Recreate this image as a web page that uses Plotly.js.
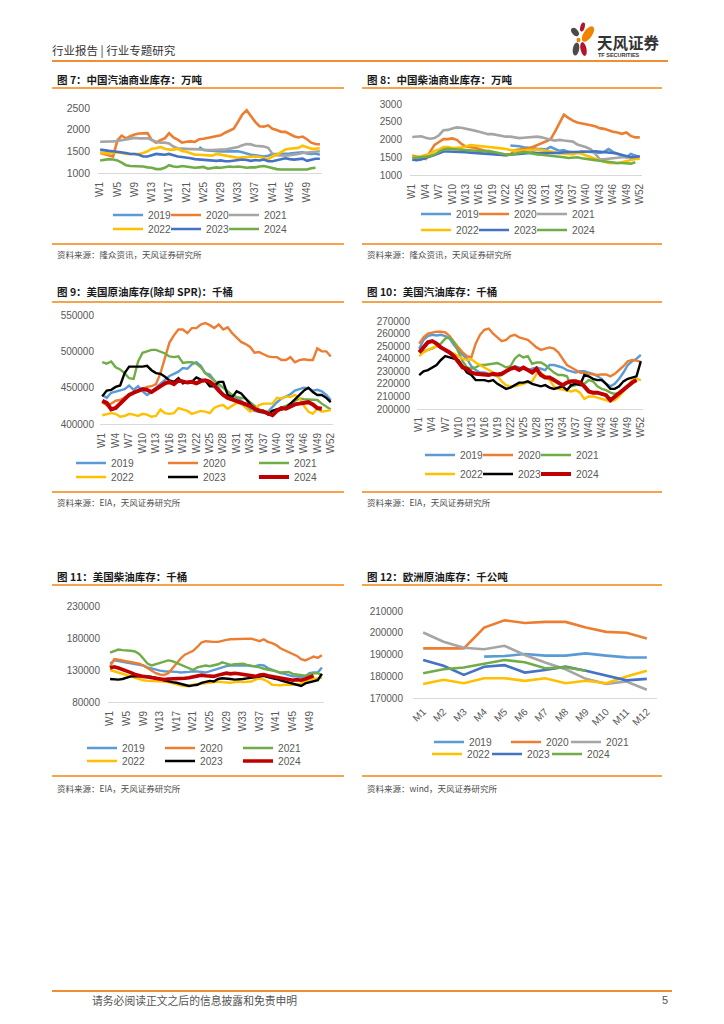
<!DOCTYPE html>
<html>
<head>
<meta charset="utf-8">
<script src="https://cdn.plot.ly/plotly-3.0.1.min.js"></script>
<style>
html,body{margin:0;padding:0;background:#fff}
body{width:724px;height:1024px;position:relative;overflow:hidden;font-family:"Noto Sans CJK SC","Noto Sans",sans-serif}
.t{position:absolute;white-space:nowrap;line-height:1}
.ttl{font-size:10.5px;font-weight:bold;color:#1a1a1a}
.src{font-size:8.5px;color:#4d4d4d}
.ln{position:absolute;height:1.5px;background:#F5A34C}
.chart{position:absolute}
</style>
</head>
<body>
<div class="t" style="left:52px;top:45px;font-size:11.5px;color:#333">行业报告 | 行业专题研究</div>
<div class="ln" style="left:52px;top:60px;width:616px;height:2px;background:#EE8F33"></div>
<svg style="position:absolute;left:566px;top:20px" width="32" height="42" viewBox="0 0 32 42">
  <ellipse cx="9" cy="12" rx="3" ry="4.8" transform="rotate(-40 9 12)" fill="#4a4a4a"/>
  <ellipse cx="16.5" cy="7" rx="2.2" ry="4.6" transform="rotate(15 16.5 7)" fill="#B3152C"/>
  <ellipse cx="22" cy="14" rx="4.2" ry="9" transform="rotate(35 22 14)" fill="#F08300"/>
  <ellipse cx="12.5" cy="20" rx="2" ry="2.2" fill="#F08300"/>
  <ellipse cx="10" cy="29" rx="3.2" ry="6.5" transform="rotate(10 10 29)" fill="#4a4a4a"/>
  <ellipse cx="17.5" cy="29" rx="3" ry="7" transform="rotate(-12 17.5 29)" fill="#B3152C"/>
</svg>
<div class="t" style="left:597px;top:35px;font-size:15.5px;font-weight:bold;color:#333">天风证券</div>
<div class="t" style="left:598px;top:53px;font-size:5.5px;color:#333;font-family:'Liberation Sans',Arial,sans-serif;font-weight:bold">TF SECURITIES</div>

<!-- Chart 7 -->
<div class="t ttl" style="left:57px;top:75px">图 7：中国汽油商业库存：万吨</div>
<div class="ln" style="left:52px;top:87px;width:292px"></div>
<div id="c7" class="chart" style="left:52px;top:92px"></div>
<div class="ln" style="left:52px;top:243px;width:292px"></div>
<div class="t src" style="left:57px;top:250px">资料来源：隆众资讯，天风证券研究所</div>

<!-- Chart 8 -->
<div class="t ttl" style="left:367px;top:75px">图 8：中国柴油商业库存：万吨</div>
<div class="ln" style="left:362px;top:87px;width:300px"></div>
<div id="c8" class="chart" style="left:362px;top:92px"></div>
<div class="ln" style="left:362px;top:243px;width:300px"></div>
<div class="t src" style="left:367px;top:250px">资料来源：隆众资讯，天风证券研究所</div>

<!-- Chart 9 -->
<div class="t ttl" style="left:57px;top:287px">图 9：美国原油库存(除却 SPR)：千桶</div>
<div class="ln" style="left:52px;top:301px;width:292px"></div>
<div id="c9" class="chart" style="left:52px;top:304px"></div>
<div class="ln" style="left:52px;top:491px;width:292px"></div>
<div class="t src" style="left:57px;top:498px">资料来源：EIA，天风证券研究所</div>

<!-- Chart 10 -->
<div class="t ttl" style="left:367px;top:287px">图 10：美国汽油库存：千桶</div>
<div class="ln" style="left:362px;top:301px;width:300px"></div>
<div id="c10" class="chart" style="left:362px;top:304px"></div>
<div class="ln" style="left:362px;top:491px;width:300px"></div>
<div class="t src" style="left:367px;top:498px">资料来源：EIA，天风证券研究所</div>

<!-- Chart 11 -->
<div class="t ttl" style="left:57px;top:572px">图 11：美国柴油库存：千桶</div>
<div class="ln" style="left:52px;top:584px;width:292px"></div>
<div id="c11" class="chart" style="left:52px;top:588px"></div>
<div class="ln" style="left:52px;top:775px;width:292px"></div>
<div class="t src" style="left:57px;top:784px">资料来源：EIA，天风证券研究所</div>

<!-- Chart 12 -->
<div class="t ttl" style="left:367px;top:572px">图 12：欧洲原油库存：千公吨</div>
<div class="ln" style="left:362px;top:584px;width:300px"></div>
<div id="c12" class="chart" style="left:362px;top:588px"></div>
<div class="ln" style="left:362px;top:775px;width:300px"></div>
<div class="t src" style="left:367px;top:784px">资料来源：wind，天风证券研究所</div>

<!-- Footer -->
<div class="ln" style="left:52px;top:990px;width:620px;height:2px;background:#EE8F33"></div>
<div class="t" style="left:92px;top:995px;font-size:10.8px;color:#555">请务必阅读正文之后的信息披露和免责申明</div>
<div class="t" style="left:662px;top:995px;font-size:11px;color:#555;font-family:'Liberation Sans',Arial,sans-serif">5</div>

<script>
// ---------------- DATA ----------------
const years = ['2019','2020','2021','2022','2023','2024'];
const weeks = ['W1','W2','W3','W4','W5','W6','W7','W8','W9','W10','W11','W12','W13','W14','W15','W16','W17','W18','W19','W20','W21','W22','W23','W24','W25','W26','W27','W28','W29','W30','W31','W32','W33','W34','W35','W36','W37','W38','W39','W40','W41','W42','W43','W44','W45','W46','W47','W48','W49','W50','W51','W52'];
const months = ['M1','M2','M3','M4','M5','M6','M7','M8','M9','M10','M11','M12'];
const weekTicks4 = ['W1','W5','W9','W13','W17','W21','W25','W29','W33','W37','W41','W45','W49'];
const weekTicks3 = ['W1','W4','W7','W10','W13','W16','W19','W22','W25','W28','W31','W34','W37','W40','W43','W46','W49','W52'];

// 图7 中国汽油商业库存（万吨）
const cnGas2019 = [null,null,null,null,null,null,null,null,null,null,null,null,null,null,null,null,null,null,null,null,null,null,null,
  1600,1530,1520,1510,1510,1500,1500,1500,1510,1500,1480,1450,1420,1410,1400,1380,1400,1440,1440,1440,1450,1450,1460,1470,1480,1450,1440,1450,1420];
const cnGas2020 = [1460,1440,1410,1380,1750,1860,1800,1850,1890,1910,1920,1920,1760,1700,1760,1800,1920,1820,1770,1700,1720,1730,1720,1780,1790,1810,1830,1840,1870,1930,1980,2020,2180,2350,2450,2300,2180,2080,2070,2100,2020,1990,1950,1950,1900,1850,1820,1840,1780,1700,1670,1660];
const cnGas2021 = [1720,1720,1720,1730,1740,1760,1770,1800,1810,1800,1800,1800,1760,1720,1700,1700,1680,1610,1570,1560,1550,1550,1550,1540,1530,1530,1530,1540,1540,1540,1560,1570,1600,1640,1670,1660,1630,1620,1610,1580,1440,1410,1400,1400,1410,1420,1440,1460,1470,1480,1490,1500];
const cnGas2022 = [1470,1460,1450,1460,1480,1460,1440,1440,1440,1440,1460,1500,1560,1570,1600,1560,1540,1540,1560,1510,1490,1450,1420,1420,1410,1410,1400,1440,1420,1400,1380,1370,1350,1360,1370,1380,1380,1370,1350,1320,1380,1420,1480,1540,1560,1570,1580,1630,1600,1560,1560,1570];
const cnGas2023 = [1540,1520,1510,1500,1490,1480,1460,1440,1440,1420,1380,1380,1410,1440,1430,1420,1440,1410,1380,1370,1360,1340,1320,1310,1310,1300,1290,1280,1290,1270,1270,1280,1300,1310,1300,1280,1300,1290,1310,1270,1270,1290,1320,1340,1320,1310,1320,1330,1280,1300,1330,1330];
const cnGas2024 = [1290,1310,1320,1310,1290,1240,1180,1160,1160,1160,1150,1130,1120,1090,1090,1120,1180,1150,1140,1160,1150,1130,1120,1130,1140,1100,1120,1130,1120,1140,1150,1140,1150,1140,1120,1130,1130,1150,1160,1140,1110,1090,1080,1080,1080,1080,1080,1070,1080,1110,1120,null];

// 图8 中国柴油商业库存（万吨）
const cnDie2019 = [null,null,null,null,null,null,null,null,null,null,null,null,null,null,null,null,null,null,null,null,null,null,
  1830,1830,1810,1780,1760,1760,1740,1730,1720,1790,1730,1680,1700,1650,1640,1620,1660,1660,1650,1640,1620,1650,1730,1650,1600,1560,1500,1590,1550,1500];
const cnDie2020 = [1550,1520,1470,1450,1650,1850,1930,2010,2010,2030,1990,1880,1800,1790,1770,1730,1690,1650,1610,1580,1570,1560,1580,1700,1720,1730,1750,1790,1840,1880,1940,2000,2220,2480,2700,2610,2530,2480,2460,2430,2400,2370,2320,2300,2250,2220,2200,2160,2200,2100,2060,2060];
const cnDie2021 = [2070,2070,2090,2050,2020,2040,2120,2260,2270,2310,2340,2330,2310,2280,2250,2220,2180,2150,2150,2120,2090,2080,2080,2060,2040,2050,2060,2060,2080,2060,2020,1990,1970,1990,1970,1950,1940,1860,1830,1780,1720,1600,1450,1440,1460,1480,1500,1500,1500,1500,1480,1520];
const cnDie2022 = [1520,1500,1530,1560,1600,1680,1720,1790,1790,1760,1760,1770,1800,1840,1830,1820,1800,1790,1770,1760,1750,1730,1700,1680,1680,1680,1700,1710,1720,1700,1680,1650,1620,1600,1600,1590,1580,1620,1600,1550,1500,1460,1420,1370,1340,1330,1330,1360,1380,1420,1450,1460];
const cnDie2023 = [1430,1420,1440,1470,1520,1560,1620,1660,1660,1660,1650,1650,1640,1630,1620,1610,1600,1600,1580,1580,1570,1560,1570,1580,1600,1620,1630,1630,1620,1620,1600,1600,1610,1620,1640,1640,1650,1660,1660,1660,1660,1670,1660,1660,1640,1620,1600,1560,1520,1500,1510,1530];
const cnDie2024 = [1480,1490,1500,1510,1530,1580,1660,1720,1740,1720,1720,1710,1700,1690,1690,1680,1670,1680,1650,1620,1600,1580,1570,1600,1620,1650,1630,1600,1580,1570,1560,1550,1540,1520,1500,1480,1500,1500,1470,1460,1440,1420,1400,1380,1360,1350,1340,1340,1340,1320,1360,null];

// 图9 美国原油库存（除却SPR，千桶）
const usCrude2019 = [440000,436000,443000,445000,446000,448000,453000,447000,452000,445000,440000,444000,450000,455000,460000,466000,469000,472000,477000,476000,482000,485000,480000,470000,468000,460000,450000,440000,438000,437000,436000,432000,426000,420000,418000,416000,415000,417000,424000,430000,435000,438000,441000,446000,448000,450000,449000,446000,447000,445000,440000,433000];
const usCrude2020 = [430000,426000,428000,432000,433000,437000,440000,443000,446000,448000,451000,452000,455000,470000,492000,512000,522000,530000,530000,525000,532000,532000,537000,539000,536000,532000,537000,530000,533000,525000,519000,513000,510000,506000,498000,499000,496000,493000,492000,492000,488000,488000,492000,485000,488000,489000,488000,488000,504000,500000,500000,493000];
const usCrude2021 = [485000,483000,486000,478000,475000,470000,463000,462000,486000,498000,500000,502000,502000,500000,497000,493000,492000,493000,484000,485000,485000,483000,478000,470000,465000,460000,455000,450000,445000,440000,437000,436000,435000,430000,425000,420000,418000,416000,418000,420000,422000,425000,428000,432000,435000,434000,434000,433000,433000,428000,424000,420000];
const usCrude2022 = [412000,413000,415000,414000,410000,411000,414000,413000,411000,414000,413000,410000,411000,420000,415000,414000,415000,422000,420000,418000,414000,416000,418000,417000,415000,422000,425000,426000,421000,425000,429000,428000,422000,417000,420000,426000,428000,428000,428000,436000,435000,438000,437000,440000,436000,425000,417000,414000,421000,417000,418000,419000];
const usCrude2023 = [438000,446000,447000,451000,453000,470000,479000,479000,478000,479000,480000,474000,470000,469000,465000,460000,458000,463000,456000,458000,458000,464000,461000,460000,452000,452000,458000,458000,440000,437000,445000,442000,435000,427000,420000,418000,418000,413000,418000,420000,420000,422000,428000,435000,440000,446000,450000,444000,440000,440000,436000,430000];
const usCrude2024 = [432000,429000,420000,422000,428000,434000,440000,443000,446000,448000,447000,444000,448000,452000,456000,458000,455000,460000,459000,457000,458000,456000,459000,460000,458000,453000,446000,440000,436000,434000,431000,430000,428000,425000,421000,418000,417000,415000,412000,418000,422000,421000,424000,427000,428000,429000,430000,427000,422000,421000,null,null];

// 图10 美国汽油库存（千桶）
const usGas2019 = [248000,255000,258000,259000,258500,259000,258000,256000,251000,247000,243000,240000,234000,231000,229000,229000,228000,227000,226000,227000,230000,232000,234000,233000,232000,231000,232000,233000,232000,231000,235000,235000,234000,233000,231000,230000,229000,230000,230000,229000,228000,226000,224000,220000,218000,220000,224000,229000,235000,238000,240000,243000];
const usGas2020 = [252000,257000,260000,261000,261500,261500,261000,258000,253000,249000,245000,242000,241000,252000,259000,263000,264000,260000,257000,254000,255000,258000,259000,257000,256000,255000,252000,249000,247000,248000,249000,248000,245000,240000,235000,233000,231000,229000,228500,228000,227000,227000,227500,227500,226000,228000,231000,234000,238000,239000,238500,237500];
const usGas2021 = [245000,246000,246500,248000,250000,252000,256000,257000,253000,245000,238000,233000,232000,233000,235000,235000,235500,236000,236500,235000,233000,234000,240000,243000,241000,242000,236000,237000,237000,235000,232000,229000,227000,227000,226000,218000,219000,221000,220000,223000,222000,218000,216000,215000,213000,212000,213000,215000,218000,221000,null,null];
const usGas2022 = [242000,245000,247000,248500,250000,249000,247000,245000,244000,242000,240000,239000,239500,237000,235000,233000,231000,229000,226000,222000,219000,218000,218000,219000,220000,221000,222000,228000,229000,226000,223000,218000,216000,215500,215000,214000,215000,213000,208000,210000,210000,209000,208000,207000,206000,207000,210000,214000,218000,223000,224000,223000];
const usGas2023 = [227000,230000,231000,233000,235000,239000,242000,241000,240000,239000,234000,229000,227000,223000,223000,223000,222000,223000,220000,218000,216000,217000,219000,221000,221000,222000,220000,219000,218000,219000,217000,216000,217000,218000,215000,219000,220000,219000,227000,226000,224000,223000,223000,220000,216000,216000,218000,222000,224000,225000,226000,238000];
const usGas2024 = [245000,249000,253000,254000,252000,249000,247000,245000,242000,238000,233000,232000,229000,228000,227500,227000,227000,228000,227500,228000,230000,232000,233000,231000,233000,231000,229000,232000,227000,225000,225000,223000,221000,219000,221000,222000,222000,221000,218000,214000,213000,213000,212000,211000,207000,210000,213000,216000,219000,221000,223000,null];

// 图11 美国柴油库存（千桶）
const usDist2019 = [140000,145000,144000,143000,141000,140000,140000,139000,137000,134000,132000,130000,129000,128000,128000,127000,127000,126000,126000,127000,128000,128000,127000,126000,128000,130000,133000,135000,136000,137000,137000,138000,137000,137000,136000,136000,138000,137000,133000,130000,127000,125000,124000,122000,120000,120000,119000,120000,125000,126000,126000,134000];
const usDist2020 = [135000,147000,146000,145000,143000,142000,141000,140000,137000,133000,128000,125000,123000,122000,125000,132000,140000,148000,154000,157000,160000,166000,173000,175000,174000,174000,174000,176000,177000,178000,178000,179000,178000,178000,179000,177000,175000,178000,174000,172000,169000,164000,161000,158000,155000,152000,147000,145000,148000,151000,149000,153000];
const usDist2021 = [157000,160000,162000,161000,161000,160000,159000,155000,148000,140000,137000,139000,141000,144000,145000,144000,141000,138000,135000,133000,130000,134000,136000,137000,136000,137000,139000,142000,140000,138000,139000,139000,140000,138000,137000,136000,134000,132000,131000,130000,128000,126000,126000,127000,124000,123000,122000,121000,123000,125000,125000,122000];
const usDist2022 = [130000,128000,125000,123000,121000,119000,118000,116000,114000,113000,113000,113000,113000,112000,111000,109000,108000,106000,105000,105000,107000,108000,109000,110000,110000,111000,112000,111000,110000,110000,111000,112000,111000,111000,112000,115000,117000,115000,112000,107000,106000,106000,107000,107000,106000,107000,109000,112000,115000,116000,117000,118000];
const usDist2023 = [116000,115000,115000,116000,118000,120000,120000,120000,121000,120000,119000,118000,116000,114000,112000,111000,110000,108000,106000,105000,106000,107000,110000,112000,113000,112000,116000,117000,117000,116000,115000,115000,116000,117000,118000,119000,121000,121000,119000,118000,116000,114000,112000,110000,108000,106000,105000,109000,111000,113000,114000,124000];
const usDist2024 = [133000,135000,133000,131000,128000,126000,123000,121000,120000,119000,118000,117000,116000,115000,116000,116000,116000,116500,117000,118000,119000,121000,122000,121000,121000,120000,122000,124000,125000,124000,125000,124000,123000,122000,121000,120000,122000,123000,121000,120000,118000,117000,116000,115000,114000,115000,114000,116000,119000,121000,null,null];

// 图12 欧洲原油库存（千公吨）
const euCrude2019 = [null,null,null,189000,189300,190200,189500,189500,190500,189500,188700,188600];
const euCrude2020 = [192800,192800,192800,202400,205700,204500,205000,205000,202400,200400,200000,197400];
const euCrude2021 = [200100,195900,193100,192400,194000,189800,186300,183200,178800,176500,177600,173800];
const euCrude2022 = [176400,178400,176800,179100,179100,177900,179100,176800,177900,176800,179900,182500];
const euCrude2023 = [187500,184800,180600,184400,185100,181700,182900,184400,182500,180200,178100,178800];
const euCrude2024 = [181400,183200,184000,185700,187500,186400,183700,184100,182500,null,null,null];

// ---------------- STYLE / DRAW ----------------
const colorsA = ['#5B9BD5','#ED7D31','#A5A5A5','#FFC000','#4472C4','#70AD47'];
const colorsB = ['#5B9BD5','#ED7D31','#70AD47','#FFC000','#000000','#C00000'];
const numFont = '"Liberation Sans", Arial, sans-serif';

function drawChart(divId, box, xcats, ys, colors, widths, opt) {
  const traces = ys.map((y, i) => ({
    type: 'scatter', mode: 'lines', x: xcats, y: y, name: years[i],
    line: {color: colors[i], width: widths[i]},
    legend: i === 0 ? 'legend' : 'legend' + (i + 1),
    showlegend: true, hoverinfo: 'skip'
  }));
  const layout = {
    width: box.w, height: box.h,
    margin: {l: opt.l, r: opt.r, t: opt.t, b: opt.b, autoexpand: false},
    paper_bgcolor: 'rgba(0,0,0,0)', plot_bgcolor: 'rgba(0,0,0,0)',
    font: {family: numFont, size: 10, color: '#595959'},
    showlegend: true,
    xaxis: {
      type: 'category', range: [-0.5, xcats.length - 0.5],
      tickmode: 'array', tickvals: opt.ticks, ticktext: opt.ticks, tickangle: opt.angle,
      showline: true, linecolor: '#D9D9D9', linewidth: 1, showgrid: false, zeroline: false,
      ticks: '', tickfont: {family: numFont, size: 10, color: '#595959'},
      ticklabelstandoff: opt.xso
    },
    yaxis: {
      range: opt.yr, tickmode: 'linear', tick0: opt.yr[0], dtick: opt.dt, tickformat: 'd',
      showgrid: false, zeroline: false, showline: false, ticks: '',
      tickfont: {family: numFont, size: opt.yfs || 10, color: '#595959'},
      ticklabelstandoff: opt.yso
    }
  };
  opt.leg.forEach((p, i) => {
    const key = i === 0 ? 'legend' : 'legend' + (i + 1);
    layout[key] = {
      xref: 'container', yref: 'container',
      x: (p[0] - 39 - box.x) / box.w, y: 1 - (p[1] - box.y) / box.h,
      xanchor: 'left', yanchor: 'middle', orientation: 'h',
      bgcolor: 'rgba(0,0,0,0)', borderwidth: 0,
      font: {family: numFont, size: 10.2, color: '#595959'}
    };
  });
  const el = document.getElementById(divId);
  el.style.width = box.w + 'px'; el.style.height = box.h + 'px';
  Plotly.newPlot(el, traces, layout, {staticPlot: true, displayModeBar: false});
}

drawChart('c7', {x: 52, y: 92, w: 295, h: 150}, weeks,
  [cnGas2019, cnGas2020, cnGas2021, cnGas2022, cnGas2023, cnGas2024], colorsA,
  [2.6, 2.6, 2.6, 2.6, 2.6, 2.6],
  {l: 46, r: 25, t: 16, b: 69, yr: [1000, 2500], dt: 500, ticks: weekTicks4, angle: -90, xso: 4, yso: 7, yfs: 10.5,
   leg: [[147,215],[205,215],[263,215],[147,229],[205,229],[263,229]]});

drawChart('c8', {x: 362, y: 92, w: 305, h: 150}, weeks,
  [cnDie2019, cnDie2020, cnDie2021, cnDie2022, cnDie2023, cnDie2024], colorsA,
  [2.6, 2.6, 2.6, 2.6, 2.6, 2.6],
  {l: 48, r: 25, t: 12, b: 67, yr: [1000, 3000], dt: 500, ticks: weekTicks3, angle: -90, xso: 4, yso: 7,
   leg: [[455,214],[513,214],[571,214],[455,230],[513,230],[571,230]]});

drawChart('c9', {x: 52, y: 304, w: 295, h: 186}, weeks,
  [usCrude2019, usCrude2020, usCrude2021, usCrude2022, usCrude2023, usCrude2024], colorsB,
  [2.4, 2.4, 2.4, 2.4, 2.4, 4],
  {l: 48, r: 14, t: 11, b: 66, yr: [400000, 550000], dt: 50000, ticks: weekTicks3, angle: -90, xso: 4, yso: 5,
   leg: [[110,463],[202,463],[293,463],[110,477],[202,477],[293,477]]});

drawChart('c10', {x: 362, y: 304, w: 305, h: 186}, weeks,
  [usGas2019, usGas2020, usGas2021, usGas2022, usGas2023, usGas2024], colorsB,
  [2.4, 2.4, 2.4, 2.4, 2.4, 4],
  {l: 55, r: 24, t: 17, b: 81, yr: [200000, 270000], dt: 10000, ticks: weekTicks3, angle: -90, xso: 3, yso: 6,
   leg: [[459,455],[517,455],[575,455],[459,474],[517,474],[575,474]]});

drawChart('c11', {x: 52, y: 588, w: 295, h: 186}, weeks,
  [usDist2019, usDist2020, usDist2021, usDist2022, usDist2023, usDist2024], colorsB,
  [2.4, 2.4, 2.4, 2.4, 2.4, 3.6],
  {l: 56, r: 23, t: 18, b: 72, yr: [80000, 230000], dt: 50000, ticks: weekTicks4, angle: -90, xso: 4, yso: 7,
   leg: [[121,748],[199,748],[277,748],[121,761],[199,761],[277,761]]});

drawChart('c12', {x: 362, y: 588, w: 305, h: 186}, months,
  [euCrude2019, euCrude2020, euCrude2021, euCrude2022, euCrude2023, euCrude2024], colorsA,
  [2.6, 2.6, 2.6, 2.6, 2.6, 2.6],
  {l: 51, r: 10, t: 23, b: 76, yr: [170000, 210000], dt: 10000, ticks: months, angle: -45, xso: 3, yso: 9,
   leg: [[468,742],[545,742],[605,742],[466,754],[526,754],[586,754]]});
</script>
</body>
</html>
